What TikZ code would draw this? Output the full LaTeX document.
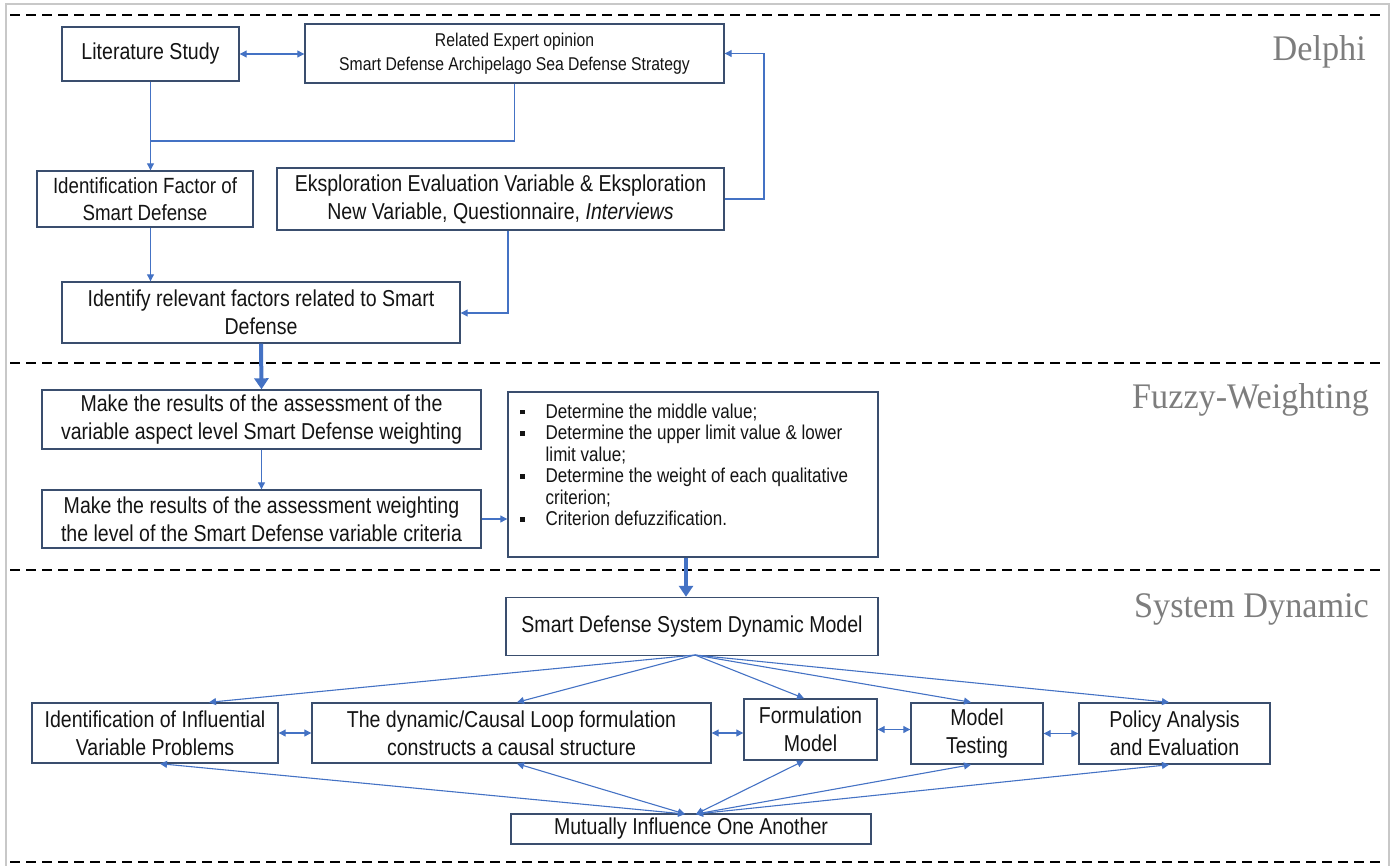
\documentclass[tikz,border=0pt]{standalone}
\usepackage{fontspec}
\setmainfont{Liberation Sans}[FakeStretch=0.85]
\newfontfamily\phasefont{Liberation Serif}[FakeStretch=0.95]
\usetikzlibrary{arrows.meta}

\definecolor{boxc}{RGB}{58,78,110}
\definecolor{linec}{RGB}{68,114,196}
\definecolor{txt}{RGB}{20,20,20}
\definecolor{phasec}{RGB}{125,125,125}
\definecolor{framec}{RGB}{200,200,200}

\newcommand{\blt}{\rule[4pt]{4.5pt}{4.5pt}}

\tikzset{
  box/.style={draw=boxc, line width=1.4pt, fill=white, align=center,
    inner sep=0pt, text=txt, font=\fontsize{23}{28}\selectfont},
  con/.style={draw=linec, line width=1.1pt},
  arr/.style={con, -{Triangle[length=7pt,width=7pt]}},
  darr/.style={con, {Triangle[length=7pt,width=7pt]}-{Triangle[length=7pt,width=7pt]}},
  bigarr/.style={draw=linec, line width=4pt, -{Triangle[length=11pt,width=14pt]}},
  phase/.style={text=phasec, inner sep=0pt, font=\phasefont\fontsize{36}{40}\selectfont},
  divider/.style={draw=black, line width=2.5pt, dash pattern=on 10pt off 6pt}
}

\begin{document}
\begin{tikzpicture}[x=1pt,y=-1pt]
\useasboundingbox (0,0) rectangle (1394,866);

% outer frame and phase dividers
\draw[framec, line width=2pt] (6,4) rectangle (1389,885);
\draw[divider] (10,15) -- (1384,15);
\draw[divider] (10,363) -- (1384,363);
\draw[divider] (10,570) -- (1384,570);
\draw[divider] (10,862) -- (1384,862);

% phase titles
\node[phase, anchor=base east] (tDelphi) at (1366,61) {Delphi};
\node[phase, anchor=base east] (tFuzzy) at (1369,408) {Fuzzy-Weighting};
\node[phase, anchor=base east] (tSD) at (1369,617) {System Dynamic};

% ---------- Delphi ----------
\node[box, minimum width=177pt, minimum height=54pt] (lit) at (150.5,54) {Literature Study};
\node[box, minimum width=419pt, minimum height=59pt, font=\fontsize{18.5}{24}\selectfont] (expert) at (514.5,53.5)
  {Related Expert opinion\\Smart Defense Archipelago Sea Defense Strategy};
\node[box, minimum width=216pt, minimum height=56pt, font=\fontsize{22}{27}\selectfont] (idf) at (145,199)
  {Identification Factor of\\Smart Defense};
\node[box, minimum width=447pt, minimum height=62pt] (eks) at (500.5,199)
  {Eksploration Evaluation Variable \& Eksploration\\New Variable, Questionnaire, \textit{Interviews}};
\node[box, minimum width=398pt, minimum height=61pt] (idr) at (261,312.5)
  {Identify relevant factors related to Smart\\Defense};

\draw[darr] (lit.east) -- (lit.east -| expert.west);
\coordinate (rx) at (764,0);
\draw[arr] (eks.east) -- (eks.east -| rx) |- (expert.east);
\coordinate (j) at (150.5,141);
\draw[con] (lit.south) -- (j);
\draw[con] (expert.south) |- (j);
\draw[arr] (j) -- (j |- idf.north);
\draw[arr] (idf.south -| j) -- (idr.north -| j);
\coordinate (k) at (508,313);
\draw[arr] (eks.south -| k) -- (k) -- (k -| idr.east);

% ---------- Fuzzy-Weighting ----------
\node[box, minimum width=439pt, minimum height=59pt] (mk1) at (261.5,419.5)
  {Make the results of the assessment of the\\variable aspect level Smart Defense weighting};
\node[box, minimum width=439pt, minimum height=58pt] (mk2) at (261.5,519)
  {Make the results of the assessment weighting\\the level of the Smart Defense variable criteria};
\node[box, minimum width=370pt, minimum height=165pt] (bul) at (693,474.5) {};
\node[anchor=north west, inner sep=0pt, text=txt, font=\fontsize{20}{21.5}\selectfont] (bullist) at (520,403)
  {\begin{tabular}{@{}l@{\hspace{21pt}}l@{}}
   \blt & Determine the middle value;\\
   \blt & Determine the upper limit value \& lower\\
        & limit value;\\
   \blt & Determine the weight of each qualitative\\
        & criterion;\\
   \blt & Criterion defuzzification.
   \end{tabular}};

\draw[bigarr] (idr.south) -- (mk1.north);
\draw[arr] (mk1.south) -- (mk2.north);
\draw[arr] (mk2.east) -- (mk2.east -| bul.west);

% ---------- System Dynamic ----------
\node[box, minimum width=372pt, minimum height=58pt] (sdm) at (692,626.5) {Smart Defense System Dynamic Model};
\coordinate (b) at (686,0);
\draw[bigarr] (bul.south -| b) -- (sdm.north -| b);

\node[box, minimum width=246pt, minimum height=60pt] (r1) at (155,733)
  {Identification of Influential\\Variable Problems};
\node[box, minimum width=399pt, minimum height=60pt] (r2) at (511.5,733)
  {The dynamic/Causal Loop formulation\\constructs a causal structure};
\node[box, minimum width=133pt, minimum height=61pt] (r3) at (810.5,729.5) {Formulation\\Model};
\node[box, minimum width=132pt, minimum height=61pt] (r4) at (977,733.5) {Model\\Testing};
\node[box, minimum width=191pt, minimum height=61pt] (r5) at (1174.5,733.5) {Policy Analysis\\and Evaluation};
\node[box, minimum width=360pt, minimum height=30pt] (mut) at (691,829) {Mutually Influence One Another};

\draw[darr] (r1.east) -- (r1.east -| r2.west);
\draw[darr] (r2.east) -- (r2.east -| r3.west);
\draw[darr] (r3.east) -- (r3.east -| r4.west);
\draw[darr] (r4.east) -- (r4.east -| r5.west);

\coordinate (src) at (695,655);
\draw[arr] (src) -- ([xshift=54pt]r1.north);
\draw[arr] (src) -- ([xshift=5.5pt]r2.north);
\draw[arr] (src) -- ([xshift=-6.5pt]r3.north);
\draw[arr] (src) -- ([xshift=-6pt]r4.north);
\draw[arr] (src) -- ([xshift=-5.5pt]r5.north);

\coordinate (mL) at (685,814);
\coordinate (mR) at (696,814);
\draw[darr] ([xshift=5pt]r1.south) -- (mL);
\draw[darr] ([xshift=5.5pt]r2.south) -- (mL);
\draw[darr] ([xshift=-6.5pt]r3.south) -- (mR);
\draw[darr] ([xshift=-6pt]r4.south) -- (mR);
\draw[darr] ([xshift=-5.5pt]r5.south) -- (mR);
\end{tikzpicture}
\end{document}
